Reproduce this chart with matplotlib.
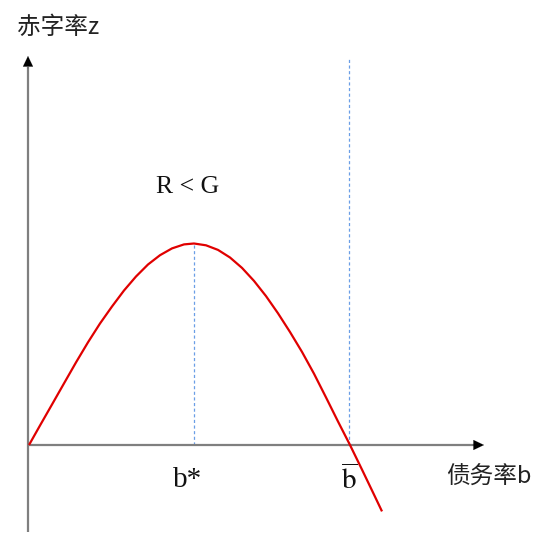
import matplotlib
matplotlib.use("Agg")
import matplotlib.pyplot as plt

plt.rcParams['mathtext.fontset'] = 'stix'

# curve samples (b = debt ratio, z = deficit ratio)
b_vals = [1, 12, 24, 36, 48, 60, 72, 84, 96, 108, 120, 132, 144, 156, 166,
          178, 190, 202, 214, 226, 238, 250, 262, 274, 286, 298, 310, 322,
          334, 346, 354]
z_vals = [0, 19.5, 40.5, 61.6, 82.6, 102.7, 121.5, 138.5, 154.5, 168.5, 180.5,
          189.8, 196.6, 200.6, 201.5, 199.7, 195.1, 187.5, 177.1, 164.1, 148.9,
          131.7, 113.0, 93.1, 71.3, 47.6, 23.5, 0, -24.6, -49.6, -66.4]
b_star = 166
z_peak = 201.5
b_bar = 321
y_label = "赤字率z"
x_label = "债务率b"
cond_label = "R < G"

fig = plt.figure(figsize=(5.5, 5.48), dpi=100)
ax = fig.add_axes([0, 0, 1, 1])
ax.set_xlim(-28, 522)
ax.set_ylim(-103, 445)
ax.axis('off')

axis_col = '#7f7f7f'
arrow = dict(arrowstyle='-|>,head_length=0.75,head_width=0.36',
             color='black', lw=0.1, shrinkA=0, shrinkB=0)
# x axis
ax.plot([0, 447], [0, 0], color=axis_col, lw=1.6, solid_capstyle='butt', zorder=2)
ax.annotate('', xy=(456, 0), xytext=(444, 0), arrowprops=arrow)
# y axis
ax.plot([0, 0], [-87, 378], color=axis_col, lw=1.6, solid_capstyle='butt', zorder=2)
ax.annotate('', xy=(0, 389), xytext=(0, 376), arrowprops=arrow)

# dashed guide lines
dash_col = '#6a9ee6'
ax.plot([b_star, b_star], [0, z_peak], color=dash_col, lw=0.9, ls=(0, (2.5, 2)), zorder=1)
ax.plot([b_bar, b_bar], [0, 388], color=dash_col, lw=0.9, ls=(0, (2.5, 2)), zorder=1)

# curve
ax.plot(b_vals, z_vals, color='#e00000', lw=1.6, zorder=3,
        solid_joinstyle='round', solid_capstyle='butt')

# texts
cjk = ['Noto Sans CJK SC', 'DejaVu Sans']
ax.text(-11, 418, y_label, fontsize=17, family=cjk, ha='left', va='center', color='#222222')
ax.text(418, -32, x_label, fontsize=17, family=cjk, ha='left', va='center', color='#222222')
ax.text(160, 258, cond_label, fontsize=18.5, family='Liberation Serif', ha='center', va='center', color='#111111')
ax.text(160, -35, 'b*', fontsize=21, family='Liberation Serif', ha='center', va='center', color='#111111')
ax.text(b_bar, -35, r'$\overline{\mathrm{b}}$', fontsize=21, ha='center', va='center', color='#111111')

fig.savefig('out.png', dpi=100, facecolor='white')
